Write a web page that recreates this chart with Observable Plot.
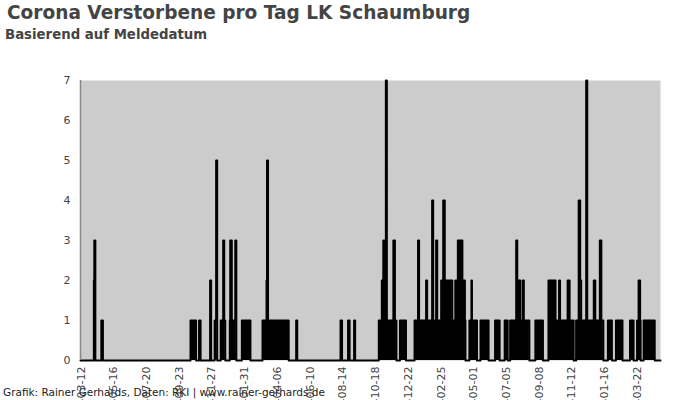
<!DOCTYPE html>
<html>
<head>
<meta charset="utf-8">
<script src="https://cdn.jsdelivr.net/npm/d3@7"></script>
<script src="https://cdn.jsdelivr.net/npm/@observablehq/plot@0.6"></script>
<style>
  html, body { margin: 0; padding: 0; background: #fff; overflow: hidden; }
  #wrap { position: relative; width: 700px; height: 400px; }
  #title { position: absolute; left: 7px; top: 3px; font: bold 18.55px "DejaVu Sans", sans-serif; color: #444; line-height: 20px; white-space: nowrap; }
  #subtitle { position: absolute; left: 5px; top: 27px; font: bold 13.3px "DejaVu Sans", sans-serif; color: #444; line-height: 16px; white-space: nowrap; }
  #caption { position: absolute; left: 3px; top: 386px; font: 10.5px "DejaVu Sans", sans-serif; color: #222; line-height: 13px; white-space: nowrap; z-index: 2; }
  #chart { position: absolute; left: 0; top: 0; }
</style>
</head>
<body>
<div id="wrap">
  <div id="chart"></div>
  <div id="title">Corona Verstorbene pro Tag LK Schaumburg</div>
  <div id="subtitle">Basierend auf Meldedatum</div>
  <div id="caption">Grafik: Rainer Gerhards, Daten: RKI | www.rainer-gerhards.de</div>
</div>
<script>
// Start date of the daily series (day offset 0)
const startDate = "2020-03-12";
const lastDay = 1150;

// Runs of reported deaths per day: first day offset, last day offset, deaths per day
const runStart = [26, 27, 41, 218, 235, 257, 266, 269, 278, 283, 296, 297, 307, 320, 361, 369, 370, 428, 516, 531, 543,
  592, 598, 601, 606, 621, 634, 663, 670, 686, 698, 706, 716, 720, 744, 749, 772, 776, 794, 823, 842,
  853, 865, 869, 878, 903, 929, 929, 950, 967, 984, 989, 992, 1004, 1019, 1031, 1047, 1063, 1091, 1105, 1108, 1118];
const runEnd = [26, 28, 43, 228, 237, 258, 270, 270, 286, 284, 308, 299, 308, 336, 412, 369, 371, 429, 518, 533, 544,
  626, 600, 605, 607, 623, 645, 763, 671, 687, 699, 707, 737, 722, 762, 757, 786, 776, 809, 831, 847,
  890, 866, 872, 879, 917, 978, 942, 951, 970, 1037, 991, 993, 1005, 1021, 1033, 1054, 1075, 1097, 1111, 1110, 1139];
const runValue = [2, 3, 1, 1, 1, 2, 1, 5, 1, 3, 1, 3, 3, 1, 1, 2, 5, 1, 1, 1, 1,
  1, 2, 3, 7, 3, 1, 1, 3, 2, 4, 3, 2, 4, 2, 3, 1, 2, 1, 1, 1,
  1, 3, 2, 2, 1, 1, 2, 2, 2, 1, 4, 2, 7, 2, 3, 1, 1, 1, 1, 2, 1];

// x-axis tick labels
const tickLabels = ["2020-03-12", "2020-05-16", "2020-07-20", "2020-09-23", "2020-11-27", "2021-01-31",
  "2021-04-06", "2021-06-10", "2021-08-14", "2021-10-18", "2021-12-22", "2022-02-25", "2022-05-01",
  "2022-07-05", "2022-09-08", "2022-11-12", "2023-01-16", "2023-03-22"];
const yTicks = [0, 1, 2, 3, 4, 5, 6, 7];

const t0 = new Date(startDate + "T00:00:00Z");
const dayDate = (k) => new Date(t0.getTime() + k * 86400000);

const vals = new Array(lastDay + 3).fill(0);
runStart.forEach((s, i) => {
  for (let k = s; k <= runEnd[i]; k++) vals[k + 1] = Math.max(vals[k + 1], runValue[i]);
});
const series = vals.map((v, j) => ({date: dayDate(j - 1), value: v}));

const chart = Plot.plot({
  width: 700,
  height: 440,
  marginTop: 80,
  marginLeft: 80,
  marginRight: 40,
  marginBottom: 80,
  style: {fontFamily: "DejaVu Sans, sans-serif", fontSize: "11px", color: "#444", background: "transparent"},
  x: {
    type: "utc",
    domain: [dayDate(-1), dayDate(lastDay + 1)],
    ticks: tickLabels.map(s => new Date(s + "T00:00:00Z")),
    tickFormat: d3.utcFormat("%Y-%m-%d"),
    tickRotate: -90,
    tickSize: 0,
    tickPadding: 6,
    label: null
  },
  y: {domain: [0, 7], ticks: yTicks, tickFormat: d3.format("d"), tickSize: 0, tickPadding: 10, label: null},
  marks: [
    Plot.frame({fill: "#cccccc", stroke: null}),
    Plot.areaY(series, {x: "date", y: "value", curve: "step", fill: "black"}),
    Plot.lineY(series, {x: "date", y: "value", curve: "step", stroke: "black", strokeWidth: 2}),
    Plot.ruleX([dayDate(-1)], {stroke: "#888", strokeWidth: 1.5})
  ]
});
document.getElementById("chart").appendChild(chart);
</script>
</body>
</html>
